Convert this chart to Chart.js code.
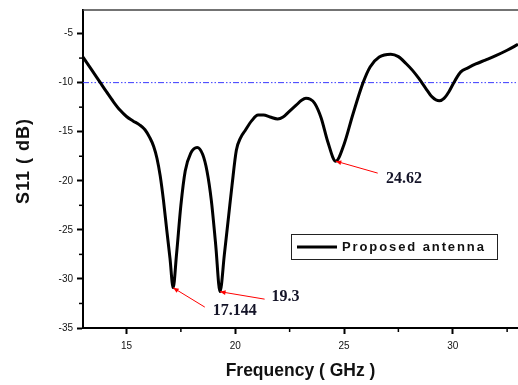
<!DOCTYPE html>
<html>
<head>
<meta charset="utf-8">
<script src="https://cdn.jsdelivr.net/npm/chart.js@4.4.1/dist/chart.umd.min.js"></script>
<style>
  html, body { margin: 0; padding: 0; background: #fff; }
  #wrap { width: 518px; height: 385px; }
</style>
</head>
<body>
<div id="wrap"><canvas id="s11Chart" width="518" height="385"></canvas></div>
<script>
// ===== DATA =====
const freq = [
  13.0, 13.4, 13.78, 14.1, 14.4, 14.7, 15.0, 15.3, 15.6, 15.85, 16.07, 16.25,
  16.4, 16.55, 16.7, 16.85, 17.0, 17.144, 17.3, 17.5, 17.7, 17.95, 18.25, 18.5,
  18.7, 18.9, 19.1, 19.3, 19.5, 19.7, 19.85, 20.05, 20.25, 20.45, 20.75, 21.05,
  21.3, 21.6, 21.95, 22.2, 22.45, 22.8, 23.05, 23.25, 23.45, 23.65, 23.95, 24.25,
  24.62, 25.0, 25.4, 25.86, 26.2, 26.62, 27.15, 27.5, 27.85, 28.15, 28.45, 28.75,
  29.05, 29.38, 29.6, 29.83, 30.1, 30.37, 30.7, 31.06, 31.5, 31.98, 32.5,
  33.0
];
const s11 = [
  -7.4, -8.7, -9.95, -11.0, -11.95, -12.8, -13.45, -13.9, -14.3, -14.8, -15.6, -16.5,
  -17.7, -19.5, -22.0, -25.0, -27.9, -30.9, -27.5, -22.5, -19.0, -17.2, -16.6, -17.3,
  -19.0, -22.0, -26.5, -31.3, -27.5, -23.5, -20.5, -16.9, -15.6, -14.9, -13.9, -13.3,
  -13.3, -13.5, -13.7, -13.5, -13.0, -12.3, -11.8, -11.6, -11.7, -12.1, -13.6, -16.0,
  -18.0, -16.3, -13.3, -10.1, -8.4, -7.4, -7.1, -7.35, -8.05, -8.75, -9.6, -10.55,
  -11.45, -11.85, -11.6, -10.9, -9.8, -8.9, -8.5, -8.1, -7.7, -7.25, -6.7,
  -6.1
];
const refLevel = -10;
const seriesName = "Proposed antenna";
const xTitle = "Frequency ( GHz )";
const yTitle = "S11 ( dB)";

const xTicks = [15, 20, 25, 30];
const xMinorTicks = [17.5, 22.5, 27.5, 32.5];
const yTicks = [-35, -30, -25, -20, -15, -10, -5];
const yMinorTicks = [-32.5, -27.5, -22.5, -17.5, -12.5, -7.5];

// resonance markers: label, point, and where the label text sits
const markLabels = ["17.144", "19.3", "24.62"];
const markX = [17.144, 19.3, 24.62];
const markY = [-30.9, -31.3, -18.0];
const markTextX = [18.96, 21.67, 26.93];
const markTextY = [-33.27, -31.86, -19.82];
const markTailX = [18.6, 21.35, 26.55];
const markTailY = [-32.87, -32.06, -19.22];

// ===== PLUGIN: frame, minor ticks, y title, markers, legend =====
const extrasPlugin = {
  id: "extras",
  afterDraw(chart) {
    const ctx = chart.ctx;
    const area = chart.chartArea;
    const xs = chart.scales.x;
    const ys = chart.scales.y;

    ctx.save();

    // top frame line
    ctx.strokeStyle = "#444";
    ctx.lineWidth = 1.5;
    ctx.beginPath();
    ctx.moveTo(area.left, area.top);
    ctx.lineTo(area.right, area.top);
    ctx.stroke();

    // minor ticks
    ctx.strokeStyle = "#000";
    ctx.lineWidth = 1.5;
    xMinorTicks.forEach((v) => {
      const px = xs.getPixelForValue(v);
      ctx.beginPath();
      ctx.moveTo(px, area.bottom);
      ctx.lineTo(px, area.bottom + 4);
      ctx.stroke();
    });
    yMinorTicks.forEach((v) => {
      const py = ys.getPixelForValue(v);
      ctx.beginPath();
      ctx.moveTo(area.left, py);
      ctx.lineTo(area.left - 4, py);
      ctx.stroke();
    });

    // y title (rotated), a bit above the middle of the axis like the original
    ctx.save();
    ctx.translate(24, (area.top + area.bottom) / 2 - 8);
    ctx.rotate(-Math.PI / 2);
    ctx.fillStyle = "#111";
    ctx.font = "bold 18px 'Liberation Sans'";
    ctx.letterSpacing = "1px";
    ctx.textAlign = "center";
    ctx.textBaseline = "middle";
    ctx.fillText(yTitle, 0, 0);
    ctx.restore();

    // markers: red arrow + label
    markLabels.forEach((label, i) => {
      const hx = xs.getPixelForValue(markX[i]);
      const hy = ys.getPixelForValue(markY[i]);
      const tx = xs.getPixelForValue(markTailX[i]);
      const ty = ys.getPixelForValue(markTailY[i]);
      ctx.strokeStyle = "#ff0000";
      ctx.fillStyle = "#ff0000";
      ctx.lineWidth = 1;
      ctx.beginPath();
      ctx.moveTo(tx, ty);
      ctx.lineTo(hx, hy);
      ctx.stroke();
      const ang = Math.atan2(hy - ty, hx - tx);
      ctx.beginPath();
      ctx.moveTo(hx, hy);
      ctx.lineTo(hx - 6 * Math.cos(ang - 0.4), hy - 6 * Math.sin(ang - 0.4));
      ctx.lineTo(hx - 6 * Math.cos(ang + 0.4), hy - 6 * Math.sin(ang + 0.4));
      ctx.closePath();
      ctx.fill();

      ctx.fillStyle = "#141428";
      ctx.font = "bold 16px 'Liberation Serif'";
      ctx.textAlign = "left";
      ctx.textBaseline = "middle";
      ctx.fillText(label, xs.getPixelForValue(markTextX[i]), ys.getPixelForValue(markTextY[i]));
    });

    // legend box
    const bx = area.right - 227;
    const by = area.bottom - 94;
    ctx.strokeStyle = "#222";
    ctx.lineWidth = 1;
    ctx.strokeRect(bx + 0.5, by + 0.5, 206, 25);
    ctx.strokeStyle = "#000";
    ctx.lineWidth = 3;
    ctx.beginPath();
    ctx.moveTo(bx + 6, by + 13);
    ctx.lineTo(bx + 46, by + 13);
    ctx.stroke();
    ctx.fillStyle = "#111";
    ctx.font = "bold 13px 'Liberation Sans'";
    ctx.letterSpacing = "1.9px";
    ctx.textAlign = "left";
    ctx.textBaseline = "middle";
    ctx.fillText(seriesName, bx + 51, by + 13.5);

    ctx.restore();
  }
};

const tickFont = { family: "'Liberation Sans', Arial", size: 10 };

new Chart(document.getElementById("s11Chart"), {
  type: "line",
  data: {
    datasets: [
      {
        label: seriesName,
        data: freq.map((f, i) => ({ x: f, y: s11[i] })),
        borderColor: "#000",
        borderWidth: 3,
        pointRadius: 0,
        cubicInterpolationMode: "monotone",
        borderJoinStyle: "round",
        fill: false
      },
      {
        label: "-10 dB",
        data: [
          { x: 13, y: refLevel },
          { x: 33, y: refLevel }
        ],
        borderColor: "#3a3aff",
        borderWidth: 1,
        borderDash: [6, 2, 1.5, 2, 1.5, 2],
        pointRadius: 0,
        fill: false
      }
    ]
  },
  options: {
    responsive: false,
    animation: false,
    layout: { padding: { top: 7, right: 0, left: 0, bottom: 0 } },
    plugins: {
      legend: { display: false },
      tooltip: { enabled: false }
    },
    scales: {
      x: {
        type: "linear",
        min: 13,
        max: 33,
        afterFit: (s) => { s.height = 57; },
        afterBuildTicks: (s) => { s.ticks = xTicks.map((v) => ({ value: v })); },
        ticks: { font: tickFont, color: "#111", padding: 6, maxRotation: 0 },
        grid: { drawOnChartArea: false, drawTicks: true, tickLength: 6, tickWidth: 2, tickColor: "#000" },
        border: { display: true, width: 2, color: "#000" },
        title: {
          display: true,
          text: xTitle,
          font: { family: "'Liberation Sans', Arial", size: 17.5, weight: "bold" },
          color: "#111",
          padding: { top: 0, bottom: 3 }
        }
      },
      y: {
        min: -35,
        max: -2.6,
        afterFit: (s) => { s.width = 83; },
        afterBuildTicks: (s) => { s.ticks = yTicks.map((v) => ({ value: v })); },
        ticks: { font: tickFont, color: "#111", padding: 4 },
        grid: { drawOnChartArea: false, drawTicks: true, tickLength: 6, tickWidth: 2, tickColor: "#000" },
        border: { display: true, width: 2, color: "#000" },
        title: { display: false }
      }
    }
  },
  plugins: [extrasPlugin]
});
</script>
</body>
</html>
